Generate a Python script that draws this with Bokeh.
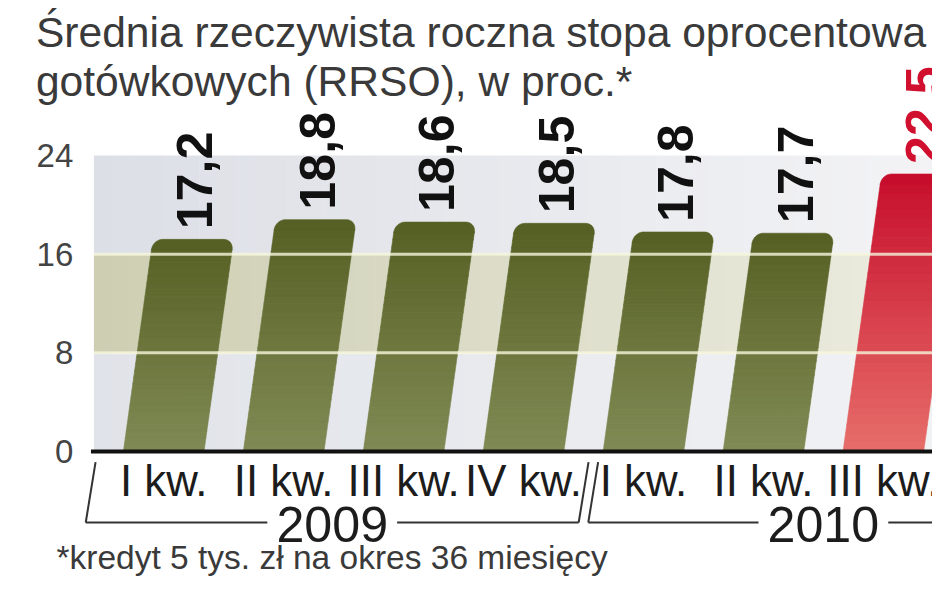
import math
from bokeh.plotting import figure
from bokeh.models import Range1d
from bokeh.core.properties import value
from bokeh.embed import file_html
from bokeh.resources import INLINE

# ---------------- data ----------------
title_lines = ["Średnia rzeczywista roczna stopa oprocentowa",
               "gotówkowych (RRSO), w proc.*"]
footnote = "*kredyt 5 tys. zł na okres 36 miesięcy"
years = ["2009", "2010"]
quarters = ["I kw.", "II kw.", "III kw.", "IV kw.", "I kw.", "II kw.", "III kw."]
rrso = [17.2, 18.8, 18.6, 18.5, 17.8, 17.7, 22.5]
y_ticks = [0, 8, 16, 24]
quarters_per_year = 4

# ---------------- layout (reference pixel geometry) ----------------
W, H = 932, 577
REF_W, REF_H = 948, 593
PX_X = 122.0      # reference px per category
PX_Y = 12.333     # px per percentage point
SX0, SY0 = 166.0, 451.0   # reference px of category 0 / value 0
BOT = (H - SY0) / (REF_H - SY0)   # squeeze of the area below the baseline
FS = 0.985


def X(sx):
    return (sx - SX0) / PX_X


def Y(sy):
    if sy > SY0:
        sy = SY0 + (sy - SY0) * BOT
    return (SY0 - sy) / PX_Y


def fs(px):
    return value("%.1fpx" % (px * FS))


p = figure(width=W, height=H, output_backend="svg", toolbar_location=None,
           x_range=Range1d(X(0), X(REF_W)),
           y_range=Range1d((SY0 - H) / PX_Y, SY0 / PX_Y),
           x_axis_location=None, y_axis_location=None,
           min_border_left=0, min_border_right=0,
           min_border_top=0, min_border_bottom=0)
p.outline_line_color = None
p.background_fill_color = "white"
p.border_fill_color = "white"
p.grid.grid_line_color = None


def lerp(c0, c1, t):
    return "#%02x%02x%02x" % tuple(int(round(a + (b - a) * t)) for a, b in zip(c0, c1))


# ---------------- title ----------------
p.text(x=[X(36)] * len(title_lines), y=[Y(31 + 49 * k) for k in range(len(title_lines))],
       text=title_lines, text_align="left", text_baseline="middle",
       text_font=value("Liberation Sans"), text_font_size=fs(43.2),
       text_color="#3a3a3a")

# ---------------- background bands ----------------
band_left, band_right = X(95), X(REF_W + 5)
band_left_cols = [(224, 227, 233), (205, 206, 178), (220, 223, 230)]
band_right_cols = [(241, 242, 244), (236, 236, 224), (243, 243, 245)]
n_strips = 48
ql, qr, qb, qt, qc = [], [], [], [], []
for b in range(len(y_ticks) - 1):
    for k in range(n_strips):
        l = band_left + (band_right - band_left) * k / n_strips
        r = band_left + (band_right - band_left) * (k + 1) / n_strips + 0.004
        ql.append(l); qr.append(r)
        qb.append(y_ticks[b]); qt.append(y_ticks[b + 1])
        qc.append(lerp(band_left_cols[b], band_right_cols[b], (k + 0.5) / n_strips))
p.quad(left=ql, right=qr, bottom=qb, top=qt, fill_color=qc, line_color=None)

# y tick labels
p.text(x=[X(74)] * len(y_ticks), y=y_ticks, text=[str(t) for t in y_ticks],
       text_align="right", text_baseline="middle",
       text_font=value("Liberation Sans"), text_font_size=fs(33.5),
       text_color="#444444")

# ---------------- slanted bars with gradient ----------------
bar_w = 82 / PX_X
shear = 0.1415 * PX_Y / PX_X          # data-x per data-y
rx, ry = 10 / PX_X, 10 / PX_Y
highlight = len(rrso) - 1
green = ((128, 138, 84), (86, 96, 36))
red = ((231, 110, 106), (198, 14, 44))
n_sl = 30
pxs, pys, pcs = [], [], []
for i, v in enumerate(rrso):
    c_bot, c_top = red if i == highlight else green
    h = v - ry
    for k in range(n_sl):
        ya = h * k / n_sl
        yb = h * (k + 1) / n_sl + 0.03
        xl, xr = i - bar_w / 2, i + bar_w / 2
        pxs.append([xl + ya * shear, xr + ya * shear, xr + yb * shear, xl + yb * shear])
        pys.append([ya, ya, yb, yb])
        pcs.append(lerp(c_bot, c_top, ((ya + yb) / 2) / v))
    # rounded cap
    cx_l, cx_r = i - bar_w / 2 + rx, i + bar_w / 2 - rx
    cxs, cys = [], []
    for a in range(0, 11):
        ang = math.pi - a * (math.pi / 2) / 10
        cxs.append(cx_l + rx * math.cos(ang)); cys.append(h + ry * math.sin(ang))
    for a in range(0, 11):
        ang = math.pi / 2 - a * (math.pi / 2) / 10
        cxs.append(cx_r + rx * math.cos(ang)); cys.append(h + ry * math.sin(ang))
    cxs += [i + bar_w / 2, i - bar_w / 2]
    cys += [h - 0.05, h - 0.05]
    pxs.append([xx + yy * shear for xx, yy in zip(cxs, cys)])
    pys.append(cys)
    pcs.append(lerp(c_bot, c_top, 1.0))
p.patches(xs=pxs, ys=pys, fill_color=pcs, line_color=pcs, line_width=0.6)

# grid lines (drawn over bars)
p.segment(x0=[band_left] * 2, y0=y_ticks[1:3], x1=[band_right] * 2, y1=y_ticks[1:3],
          line_color="#f6f6dc", line_width=3, line_alpha=0.8)
# baseline
p.segment(x0=[X(92)], y0=[0], x1=[X(REF_W + 5)], y1=[0], line_color="#111111", line_width=4)

# value labels
off = 10 / PX_Y
p.text(x=[i + (v + off) * shear for i, v in enumerate(rrso)],
       y=[v + off for v in rrso],
       text=[("%.1f" % v).replace(".", ",") for v in rrso],
       angle=math.pi / 2, text_align="left", text_baseline="middle",
       text_font=value("Liberation Sans"), text_font_style="bold",
       text_font_size=fs(51),
       text_color=["#d0102e" if i == highlight else "#111111" for i in range(len(rrso))])

# category labels
p.text(x=list(range(len(quarters))), y=[Y(484)] * len(quarters), text=quarters,
       text_align="center", text_baseline="middle",
       text_font=value("Liberation Sans"), text_font_size=fs(44.5),
       text_color="#1c1c1c")

# year brackets
line_y, slash_top = Y(531), Y(463)
slash_dx = 10 / PX_X
gap = 66 / PX_X
mx, my, yx, yy_ = [], [], [], []
for g, yr in enumerate(years):
    left = g * quarters_per_year - 0.5 + 0.04 - (0.19 if g == 0 else 0.0)
    right = g * quarters_per_year + quarters_per_year - 0.5 - 0.04
    mid = (left + right) / 2
    mx += [[left, mid - gap], [mid + gap, right],
           [left, left + slash_dx], [right, right + slash_dx]]
    my += [[line_y, line_y], [line_y, line_y],
           [line_y, slash_top], [line_y, slash_top]]
    yx.append(mid); yy_.append(Y(533))
p.multi_line(xs=mx, ys=my, line_color="#333333", line_width=2)
p.text(x=yx, y=yy_, text=years, text_align="center", text_baseline="middle",
       text_font=value("Liberation Sans"), text_font_size=fs(51),
       text_color="#1c1c1c")

# footnote
p.text(x=[X(57)], y=[Y(571)], text=[footnote], text_align="left",
       text_baseline="middle", text_font=value("Liberation Sans"),
       text_font_size=fs(34), text_color="#3a3a3a")

open("out.html", "w").write(file_html(p, INLINE))
